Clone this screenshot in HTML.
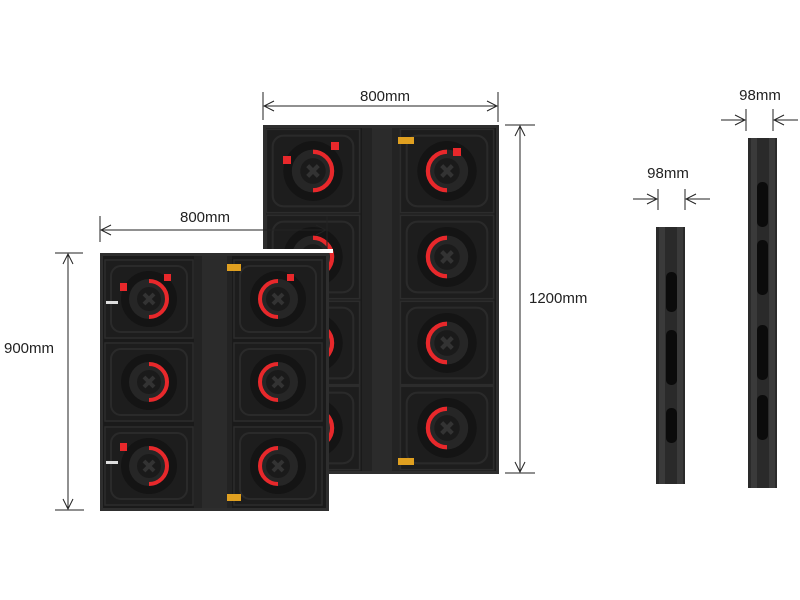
<!DOCTYPE html>
<html><head><meta charset="utf-8"><style>
html,body{margin:0;padding:0;background:#fff;width:800px;height:600px;overflow:hidden}
svg{display:block}
text{font-family:"Liberation Sans",sans-serif;font-size:15px;fill:#222}
</style></head><body>
<svg width="800" height="600" viewBox="0 0 800 600" xmlns="http://www.w3.org/2000/svg">
<defs>
<marker id="ah" markerWidth="12" markerHeight="12" refX="11" refY="6" orient="auto-start-reverse" markerUnits="userSpaceOnUse">
<path d="M1,1 L11,6 L1,11" fill="none" stroke="#222" stroke-width="1"/>
</marker>
<g id="modR">
<rect x="-44" y="-39" width="88" height="78" fill="#1d1d1d" stroke="#2c2c2c" stroke-width="1.5"/>
<rect x="-38" y="-33" width="76" height="66" rx="10" fill="none" stroke="#2a2a2a" stroke-width="2"/>
<circle r="28" fill="#141414"/>
<circle r="20" fill="#262626"/>
<circle r="12" fill="#1a1a1a"/>
<path d="M-5,-5 L5,5 M5,-5 L-5,5" stroke="#333" stroke-width="4"/>
<path d="M0,-18 A18,18 0 0 1 0,18" fill="none" stroke="#e8282b" stroke-width="4"/>
</g>
<g id="modL">
<rect x="-44" y="-39" width="88" height="78" fill="#1d1d1d" stroke="#2c2c2c" stroke-width="1.5"/>
<rect x="-38" y="-33" width="76" height="66" rx="10" fill="none" stroke="#2a2a2a" stroke-width="2"/>
<circle r="28" fill="#141414"/>
<circle r="20" fill="#262626"/>
<circle r="12" fill="#1a1a1a"/>
<path d="M-5,-5 L5,5 M5,-5 L-5,5" stroke="#333" stroke-width="4"/>
<path d="M0,-18 A18,18 0 0 0 0,18" fill="none" stroke="#e8282b" stroke-width="4"/>
</g>
</defs>

<!-- Big cabinet -->
<rect x="263" y="125" width="236" height="349" fill="#2e2e2e"/>
<rect x="266" y="128" width="230" height="343" fill="#1a1a1a"/>
<rect x="362" y="128" width="38" height="343" fill="#232323"/>
<rect x="372" y="128" width="20" height="343" fill="#2b2b2b"/>
<use href="#modR" transform="translate(313,171) scale(1.06,1.07)"/>
<use href="#modL" transform="translate(447,171) scale(1.06,1.07)"/>
<use href="#modR" transform="translate(313,257) scale(1.06,1.07)"/>
<use href="#modL" transform="translate(447,257) scale(1.06,1.07)"/>
<use href="#modR" transform="translate(313,343) scale(1.06,1.07)"/>
<use href="#modL" transform="translate(447,343) scale(1.06,1.07)"/>
<use href="#modR" transform="translate(313,428) scale(1.06,1.07)"/>
<use href="#modL" transform="translate(447,428) scale(1.06,1.07)"/>
<rect x="398" y="137" width="16" height="7" fill="#e0a020"/>
<rect x="398" y="458" width="16" height="7" fill="#e0a020"/>
<rect x="283" y="156" width="8" height="8" fill="#e8282b"/>
<rect x="331" y="142" width="8" height="8" fill="#e8282b"/>
<rect x="453" y="148" width="8" height="8" fill="#e8282b"/>

<!-- Small cabinet -->
<rect x="97" y="249" width="236" height="4" fill="#fff"/>
<rect x="100" y="253" width="229" height="258" fill="#2e2e2e"/>
<rect x="103" y="256" width="223" height="252" fill="#1a1a1a"/>
<rect x="194" y="256" width="38" height="252" fill="#232323"/>
<rect x="202" y="256" width="25" height="252" fill="#2b2b2b"/>
<use href="#modR" transform="translate(149,299)"/>
<use href="#modL" transform="translate(278,299)"/>
<use href="#modR" transform="translate(149,382)"/>
<use href="#modL" transform="translate(278,382)"/>
<use href="#modR" transform="translate(149,466)"/>
<use href="#modL" transform="translate(278,466)"/>
<rect x="227" y="264" width="14" height="7" fill="#e0a020"/>
<rect x="227" y="494" width="14" height="7" fill="#e0a020"/>
<rect x="120" y="283" width="7" height="8" fill="#e8282b"/>
<rect x="164" y="274" width="7" height="7" fill="#e8282b"/>
<rect x="287" y="274" width="7" height="7" fill="#e8282b"/>
<rect x="120" y="443" width="7" height="8" fill="#e8282b"/>
<rect x="106" y="301" width="12" height="3" fill="#ddd"/>
<rect x="106" y="461" width="12" height="3" fill="#ddd"/>

<!-- Side profiles -->
<rect x="656" y="227" width="29" height="257" fill="#2a2a2a"/>
<rect x="659" y="227" width="6" height="257" fill="#3a3a3a"/>
<rect x="677" y="227" width="6" height="257" fill="#3a3a3a"/>
<rect x="666" y="272" width="11" height="40" rx="5" fill="#0b0b0b"/>
<rect x="666" y="330" width="11" height="55" rx="5" fill="#0b0b0b"/>
<rect x="666" y="408" width="11" height="35" rx="5" fill="#0b0b0b"/>
<rect x="748" y="138" width="29" height="350" fill="#2a2a2a"/>
<rect x="751" y="138" width="6" height="350" fill="#3a3a3a"/>
<rect x="769" y="138" width="6" height="350" fill="#3a3a3a"/>
<rect x="757" y="182" width="11" height="45" rx="5" fill="#0b0b0b"/>
<rect x="757" y="240" width="11" height="55" rx="5" fill="#0b0b0b"/>
<rect x="757" y="325" width="11" height="55" rx="5" fill="#0b0b0b"/>
<rect x="757" y="395" width="11" height="45" rx="5" fill="#0b0b0b"/>

<!-- Dimensions -->
<g stroke="#222" stroke-width="1" fill="none">
<line x1="263" y1="92" x2="263" y2="120"/><line x1="498" y1="92" x2="498" y2="122"/>
<line x1="264" y1="106" x2="497" y2="106" marker-start="url(#ah)" marker-end="url(#ah)"/>
<line x1="100" y1="216" x2="100" y2="242"/><line x1="327" y1="216" x2="327" y2="249"/>
<line x1="101" y1="230" x2="326" y2="230" marker-start="url(#ah)" marker-end="url(#ah)"/>
<line x1="55" y1="253" x2="83" y2="253"/><line x1="55" y1="510" x2="84" y2="510"/>
<line x1="68" y1="254" x2="68" y2="509" marker-start="url(#ah)" marker-end="url(#ah)"/>
<line x1="505" y1="125" x2="535" y2="125"/><line x1="505" y1="473" x2="535" y2="473"/>
<line x1="520" y1="126" x2="520" y2="472" marker-start="url(#ah)" marker-end="url(#ah)"/>
<line x1="658" y1="189" x2="658" y2="210"/><line x1="685" y1="189" x2="685" y2="210"/>
<line x1="633" y1="199" x2="657" y2="199" marker-end="url(#ah)"/>
<line x1="710" y1="199" x2="686" y2="199" marker-end="url(#ah)"/>
<line x1="746" y1="109" x2="746" y2="131"/><line x1="773" y1="109" x2="773" y2="131"/>
<line x1="721" y1="120" x2="745" y2="120" marker-end="url(#ah)"/>
<line x1="798" y1="120" x2="774" y2="120" marker-end="url(#ah)"/>
</g>
<text x="385" y="101" text-anchor="middle">800mm</text>
<text x="205" y="222" text-anchor="middle">800mm</text>
<text x="4" y="353">900mm</text>
<text x="529" y="303">1200mm</text>
<text x="668" y="178" text-anchor="middle">98mm</text>
<text x="760" y="100" text-anchor="middle">98mm</text>
</svg>
</body></html>
